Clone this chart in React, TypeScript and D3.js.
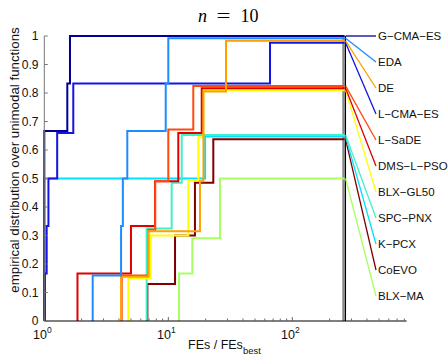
import React from "react";
import * as d3 from "d3";

// ---------- data ----------
const algorithms = ["G−CMA−ES", "EDA", "DE", "L−CMA−ES", "L−SaDE", "DMS−L−PSO", "BLX−GL50", "SPC−PNX", "K−PCX", "CoEVO", "BLX−MA"];
const colors = ["#000099", "#1e8cff", "#ffa000", "#1414e6", "#ff4a10", "#e00000", "#ffff00", "#40f0c8", "#00e0ff", "#800000", "#a8ff60"];

const gcmaesX = [1.0, 1.533, 1.611];
const gcmaesY = [0.667, 0.833, 1.0];
const edaX = [2.456, 4.16, 4.3, 4.67, 9.53, 10.0];
const edaY = [0.16, 0.333, 0.5, 0.667, 0.833, 0.992];
const deX = [4.16, 6.9, 18.0, 19.2, 29.2];
const deY = [0.155, 0.315, 0.49, 0.805, 0.983];
const lcmaesX = [1.01, 1.045, 1.08, 1.27, 1.713, 66.1];
const lcmaesY = [0.167, 0.333, 0.5, 0.66, 0.833, 0.976];
const lsadeX = [4.21, 6.9, 7.85, 10.0, 15.9];
const lsadeY = [0.16, 0.32, 0.49, 0.672, 0.825];
const dmsX = [1.852, 5.0, 7.81, 12.04, 18.6];
const dmsY = [0.167, 0.333, 0.49, 0.66, 0.817];
const blxgl50X = [4.76, 7.21, 14.5, 17.46, 19.15];
const blxgl50Y = [0.15, 0.3, 0.495, 0.645, 0.81];
const spcX = [6.69, 10.65, 12.83];
const spcY = [0.325, 0.485, 0.653];
const kpcxX = [1.0, 19.8];
const kpcxY = [0.5, 0.647];
const coevoX = [6.78, 11.33, 16.4, 23.06];
const coevoY = [0.13, 0.3, 0.485, 0.638];
const blxmaX = [12.2, 15.62, 26.1];
const blxmaY = [0.167, 0.29, 0.5];

const seriesX = [gcmaesX, edaX, deX, lcmaesX, lsadeX, dmsX, blxgl50X, spcX, kpcxX, coevoX, blxmaX];
const seriesY = [gcmaesY, edaY, deY, lcmaesY, lsadeY, dmsY, blxgl50Y, spcY, kpcxY, coevoY, blxmaY];

const xBudget = 264;
const xDomain = [1, 835];
const yTicks = [0, 0.1, 0.2, 0.3, 0.4, 0.5, 0.6, 0.7, 0.8, 0.9, 1];
const yTickLabels = ["0", "0.1", "0.2", "0.3", "0.4", "0.5", "0.6", "0.7", "0.8", "0.9", "1"];
const xMajor = [1, 10, 100];
const xMajorExp = ["0", "1", "2"];

// ---------- layout ----------
const W = 448, H = 358;
const left = 44.3, right = 406.6, top = 36, bottom = 321;
const labelX = 378, labelY0 = 36, labelStep = 26;

export default function App() {
  const x = d3.scaleLog().domain(xDomain).range([left, right]);
  const y = d3.scaleLinear().domain([0, 1]).range([bottom, top]);
  const line = d3
    .line<[number, number]>()
    .x((d) => x(d[0]))
    .y((d) => y(d[1]))
    .curve(d3.curveStepAfter);

  const minor: number[] = [];
  [1, 10, 100].forEach((dec) => {
    for (let k = 1; k <= 9; k++) {
      const v = dec * k;
      if (v <= xDomain[1]) minor.push(v);
    }
  });

  const sans = "'Liberation Sans', Arial, Helvetica, sans-serif";
  const serif = "'Liberation Serif', 'Times New Roman', serif";
  const order = d3.range(algorithms.length).reverse();
  const xb = x(xBudget);

  return (
    <svg width={W} height={H} style={{ position: "absolute", left: 0, top: 0, background: "#fff" }}>
      <rect x={0} y={0} width={W} height={H} fill="#fff" />
      {/* title */}
      <text x={198} y={21.5} fontFamily={serif} fontSize={18} fontStyle="italic">n</text>
      <text x={216.5} y={21.5} fontFamily={serif} fontSize={18} textLength={14} lengthAdjust="spacingAndGlyphs">=</text>
      <text x={240.5} y={21.5} fontFamily={serif} fontSize={18}>10</text>

      {/* budget lines */}
      <line x1={xb - 1.2} x2={xb - 1.2} y1={top} y2={bottom} stroke="#888" strokeWidth={2.2} />
      <line x1={xb + 0.8} x2={xb + 0.8} y1={top} y2={bottom} stroke="#000" strokeWidth={1.3} />

      {/* curves */}
      {order.map((i) => {
        const xs = seriesX[i];
        const ys = seriesY[i];
        const pts: [number, number][] = [[xs[0], 0]];
        xs.forEach((v, j) => pts.push([v, ys[j]]));
        pts.push([xBudget, ys[ys.length - 1]]);
        return (
          <path key={"c" + i} d={line(pts) || ""} fill="none" stroke={colors[i]} strokeWidth={2} />
        );
      })}

      {/* leader lines + labels */}
      {order.map((i) => {
        const ys = seriesY[i];
        const ly = labelY0 + i * labelStep;
        return (
          <g key={"l" + i}>
            <line x1={xb + 1} y1={y(ys[ys.length - 1])} x2={labelX - 2} y2={ly} stroke={colors[i]} strokeWidth={1.3} />
            <text x={labelX} y={ly} dy="0.36em" fontFamily={sans} fontSize={11.5} fill="#111">
              {algorithms[i]}
            </text>
          </g>
        );
      })}

      {/* axes */}
      <line x1={left} x2={left} y1={top} y2={bottom} stroke="#777" strokeWidth={1} />
      <line x1={left} x2={right} y1={bottom} y2={bottom} stroke="#000" strokeWidth={1.2} />
      {yTicks.map((t, i) => (
        <g key={"y" + i}>
          <line x1={left} x2={left + 3.5} y1={y(t)} y2={y(t)} stroke="#777" />
          <text x={38.5} y={y(t)} dy="0.36em" textAnchor="end" fontFamily={sans} fontSize={12} fill="#111">
            {yTickLabels[i]}
          </text>
        </g>
      ))}
      {minor.map((v, i) => (
        <line key={"m" + i} x1={x(v)} x2={x(v)} y1={bottom} y2={bottom - (xMajor.includes(v) ? 4 : 2.5)} stroke="#666" />
      ))}
      {xMajor.map((v, i) => (
        <text key={"xt" + i} x={x(v) - 2} y={339} textAnchor="middle" fontFamily={sans} fontSize={12.5} fill="#111">
          10
          <tspan dy={-6} fontSize={8.5}>{xMajorExp[i]}</tspan>
        </text>
      ))}

      {/* axis labels */}
      <text x={188} y={349} fontFamily={sans} fontSize={12.5} fill="#111">
        FEs / FEs
        <tspan dy={5} fontSize={9.5}>best</tspan>
      </text>
      <text
        transform={`translate(18.5, 160) rotate(-90)`}
        textAnchor="middle"
        fontFamily={sans}
        fontSize={13.3}
        fill="#111"
      >
        empirical distribution over unimodal functions
      </text>
    </svg>
  );
}
